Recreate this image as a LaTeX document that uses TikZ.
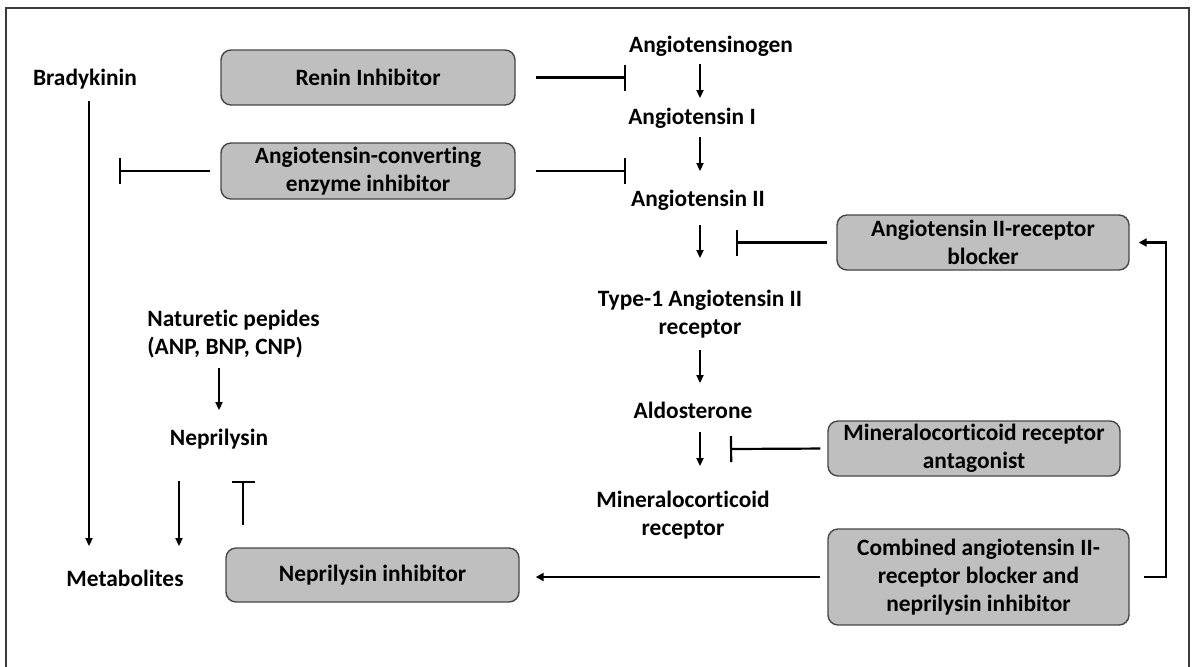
\documentclass[tikz,border=0pt]{standalone}
\usepackage{fontspec}
\setmainfont{Carlito}[Ligatures=NoCommon]
\usetikzlibrary{arrows.meta}
\definecolor{boxfill}{RGB}{191,191,191}
\definecolor{boxline}{RGB}{70,70,70}
\definecolor{framec}{RGB}{60,60,60}
\begin{document}
\begin{tikzpicture}[x=0.5pt,y=-0.5pt,
  font=\fontsize{11.7pt}{14pt}\selectfont\bfseries,
  lbl/.style={inner sep=0pt, align=center},
  drug/.style={draw=boxline, fill=boxfill, rounded corners=5pt, line width=0.7pt, inner sep=0pt, align=center},
  arr/.style={line width=0.7pt, -{Triangle[length=4pt,width=3.6pt]}},
  arrb/.style={line width=1.1pt, -{Triangle[length=4pt,width=4pt]}},
  inh/.style={line width=1.1pt, -{Bar[width=13pt,line width=1.1pt]}},
  inhs/.style={line width=0.8pt, -{Bar[width=11.5pt,line width=0.8pt]}}
]
\useasboundingbox (0,0) rectangle (1193,666);
\draw[framec, line width=1.2pt] (6,8) rectangle (1189,700);

% drug boxes
\node[drug, minimum width=147pt, minimum height=27.5pt] (renin) at (368,77.5) {Renin Inhibitor};
\node[drug, minimum width=147pt, minimum height=28pt] (ace) at (368,171) {Angiotensin-converting\\enzyme inhibitor};
\node[drug, minimum width=146pt, minimum height=27.5pt] (arb) at (983,242.5) {Angiotensin II-receptor\\blocker};
\node[drug, minimum width=146pt, minimum height=27.5pt] (mra) at (974,448.5) {Mineralocorticoid receptor\\antagonist};
\node[drug, minimum width=150.5pt, minimum height=48pt] (comb) at (978.5,577) {Combined angiotensin II-\\receptor blocker and\\neprilysin inhibitor};
\node[drug, minimum width=146.5pt, minimum height=27pt] (nepi) at (372.5,575) {Neprilysin inhibitor};

% text labels
\node[lbl] (brady) at (85,79) {Bradykinin};
\node[lbl] (agen) at (711,46) {Angiotensinogen};
\node[lbl] (a1) at (692,118) {Angiotensin I};
\node[lbl] (a2) at (698,200) {Angiotensin II};
\node[lbl] (at1) at (700,314) {Type-1 Angiotensin II\\receptor};
\node[lbl] (aldo) at (693,410) {Aldosterone};
\node[lbl] (mr) at (683,515) {Mineralocorticoid\\receptor};
\node[lbl, anchor=west, align=left] (nat) at (147,334) {Naturetic pepides\\(ANP, BNP, CNP)};
\node[lbl] (nep) at (219,439) {Neprilysin};
\node[lbl] (metab) at (125,578) {Metabolites};

% arrow end coordinates
\coordinate (b1) at (89,101);  \coordinate (b2) at (89,546);
\coordinate (p1) at (700,64);  \coordinate (p2) at (700,98);
\coordinate (q1) at (700,137); \coordinate (q2) at (700,171);
\coordinate (r1) at (700,225); \coordinate (r2) at (700,258);
\coordinate (s1) at (700,350); \coordinate (s2) at (700,383);
\coordinate (t1) at (700,432); \coordinate (t2) at (700,466);
\coordinate (n1) at (219,368); \coordinate (n2) at (219,410);
\coordinate (m1) at (179,481); \coordinate (m2) at (179,546);

% bar positions
\coordinate (rbar) at (626,77.5);
\coordinate (abar) at (626,171);
\coordinate (lbar) at (119,171);
\coordinate (arbbar) at (736,242.5);
\coordinate (mrbar) at (730,449);
\coordinate (nbar) at (243,481);
\coordinate (loopx) at (1166,0);

% cascade arrows
\draw[arr] (b1) -- (b2);
\draw[arr] (p1) -- (p2);
\draw[arr] (q1) -- (q2);
\draw[arr] (r1) -- (r2);
\draw[arr] (s1) -- (s2);
\draw[arr] (t1) -- (t2);
\draw[arr] (n1) -- (n2);
\draw[arr] (m1) -- (m2);

% inhibitions
\draw[inh, shorten <=10pt] (renin.east) -- (rbar);
\draw[inh, shorten <=10pt] (ace.east) -- (abar);
\draw[inh, shorten <=5pt] (ace.west) -- (lbar);
\draw[inh, shorten <=4.5pt] (arb.west) -- (arbbar);
\draw[inh, shorten <=3.5pt] (mra.west) -- (mrbar);
\draw[inhs, shorten <=11pt] (nepi.north -| nbar) -- (nbar);

% combined drug arrows
\draw[arrb, shorten <=3.5pt, shorten >=8pt] (comb.west) -- (comb.west -| nepi.east);
\draw[arrb, shorten <=7pt, shorten >=4.5pt] (comb.east) -| (loopx |- arb.east) -- (arb.east);
\end{tikzpicture}
\end{document}
